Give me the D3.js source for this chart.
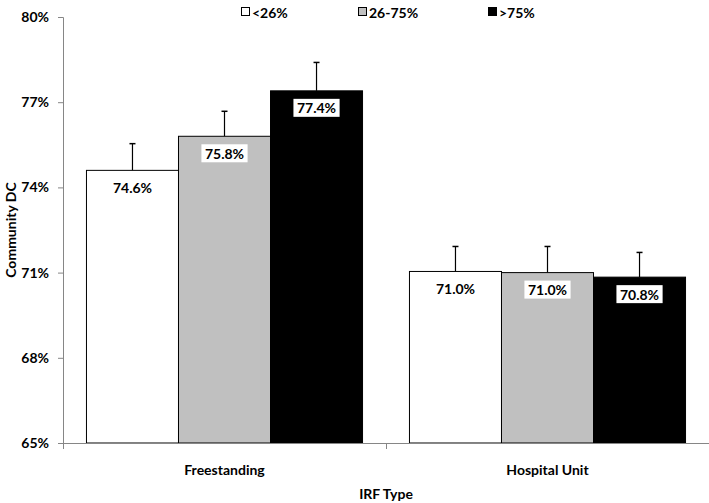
<!DOCTYPE html>
<html>
<head>
<meta charset="utf-8">
<script src="https://cdn.jsdelivr.net/npm/d3@7"></script>
<style>
  html, body { margin: 0; padding: 0; background: #fff; }
  svg { display: block; font-family: Lato, "Open Sans", sans-serif; font-weight: bold; }
</style>
</head>
<body>
<svg id="chart" width="709" height="503"></svg>
<script>
// ---- data ----
const categories = ["Freestanding", "Hospital Unit"];
const seriesNames = ["<26%", "26-75%", ">75%"];
const freestandingValues = [74.6, 75.8, 77.4];
const hospitalValues = [71.04, 71.0, 70.84];
const freestandingErrors = [0.94, 0.88, 1.0];
const hospitalErrors = [0.88, 0.92, 0.87];
const yTicks = [65, 68, 71, 74, 77, 80];
const seriesColors = ["#ffffff", "#c0c0c0", "#000000"];

const values = [freestandingValues, hospitalValues];
const errors = [freestandingErrors, hospitalErrors];

const svg = d3.select("#chart");

const y = d3.scaleLinear().domain([65, 80]).range([443, 17]);
const x0 = d3.scaleBand().domain(categories).range([63, 709]);
const x1 = d3.scaleBand().domain(seriesNames).range([0, x0.bandwidth()]).paddingInner(0).paddingOuter(0.255);

const axisColor = "#868686";

// bars
const groups = svg.selectAll("g.grp").data(categories).join("g")
  .attr("class", "grp")
  .attr("transform", d => `translate(${x0(d)},0)`);

groups.each(function(cat, ci) {
  const g = d3.select(this);
  const rows = seriesNames.map((s, si) => ({ s, si, v: values[ci][si], e: errors[ci][si] }));
  // error bars (upward only)
  rows.forEach(r => {
    const cx = x1(r.s) + x1.bandwidth() / 2;
    g.append("line").attr("x1", cx).attr("x2", cx)
      .attr("y1", y(r.v)).attr("y2", y(r.v + r.e))
      .attr("stroke", "#000").attr("stroke-width", 1.2);
    g.append("line").attr("x1", cx - 3).attr("x2", cx + 3)
      .attr("y1", y(r.v + r.e)).attr("y2", y(r.v + r.e))
      .attr("stroke", "#000").attr("stroke-width", 1.5);
  });
  g.selectAll("rect.bar").data(rows).join("rect")
    .attr("class", "bar")
    .attr("x", d => x1(d.s))
    .attr("y", d => y(d.v))
    .attr("width", x1.bandwidth())
    .attr("height", d => y(65) - y(d.v))
    .attr("fill", d => seriesColors[d.si])
    .attr("stroke", "#000")
    .attr("stroke-width", 1);
  // labels with white boxes
  rows.forEach(r => {
    const cx = x1(r.s) + x1.bandwidth() / 2;
    const ty = y(r.v) + 17;
    const txt = r.v.toFixed(1) + "%";
    const t = g.append("text").attr("x", cx).attr("y", ty)
      .attr("text-anchor", "middle").attr("dominant-baseline", "central")
      .attr("font-size", 14).attr("fill", "#000").text(txt);
    const bb = t.node().getBBox();
    g.insert("rect", function() { return t.node(); })
      .attr("x", bb.x - 3.5).attr("y", ty - 9)
      .attr("width", bb.width + 7).attr("height", 18)
      .attr("fill", "#fff");
  });
});

// y axis
const yAxis = d3.axisLeft(y).tickValues(yTicks).tickSize(5).tickPadding(9)
  .tickFormat(d => d + "%");
const gy = svg.append("g").attr("transform", "translate(63,0)").call(yAxis);
gy.select(".domain").attr("stroke", axisColor).attr("d", "M-5,17.5H0.5V443.5H-5");
gy.selectAll(".tick line").attr("stroke", axisColor);
gy.selectAll(".tick text").attr("font-size", 14).attr("font-family", "Lato").attr("font-weight", "bold").attr("fill", "#000");

// x axis
const gx = svg.append("g").attr("transform", "translate(0,443)");
gx.append("line").attr("x1", 58).attr("x2", 709).attr("y1", 0.5).attr("y2", 0.5).attr("stroke", axisColor);
const bounds = [63, x0(categories[1]), 708.5];
gx.selectAll("line.tk").data(bounds).join("line")
  .attr("class", "tk")
  .attr("x1", d => Math.round(d) + 0.5).attr("x2", d => Math.round(d) + 0.5)
  .attr("y1", 0).attr("y2", 6).attr("stroke", axisColor);
gx.selectAll("text.cat").data(categories).join("text")
  .attr("class", "cat")
  .attr("x", d => x0(d) + x0.bandwidth() / 2)
  .attr("y", 26)
  .attr("text-anchor", "middle").attr("dominant-baseline", "central")
  .attr("font-size", 14).text(d => d);

// axis titles
svg.append("text").attr("x", 386).attr("y", 493)
  .attr("text-anchor", "middle").attr("dominant-baseline", "central")
  .attr("font-size", 14).text("IRF Type");
svg.append("text").attr("transform", "translate(10,230) rotate(-90)")
  .attr("text-anchor", "middle").attr("dominant-baseline", "central")
  .attr("font-size", 14).text("Community DC");

// legend
const legendX = [241, 358, 488];
const lg = svg.selectAll("g.lg").data(seriesNames).join("g")
  .attr("class", "lg")
  .attr("transform", (d, i) => `translate(${legendX[i]},12)`);
lg.append("rect").attr("x", 0.5).attr("y", -4.5).attr("width", 8).attr("height", 8)
  .attr("fill", (d, i) => seriesColors[i]).attr("stroke", "#000").attr("stroke-width", 1);
lg.append("text").attr("x", 11).attr("y", 0).attr("dominant-baseline", "central")
  .attr("font-size", 14).text(d => d);
</script>
</body>
</html>
